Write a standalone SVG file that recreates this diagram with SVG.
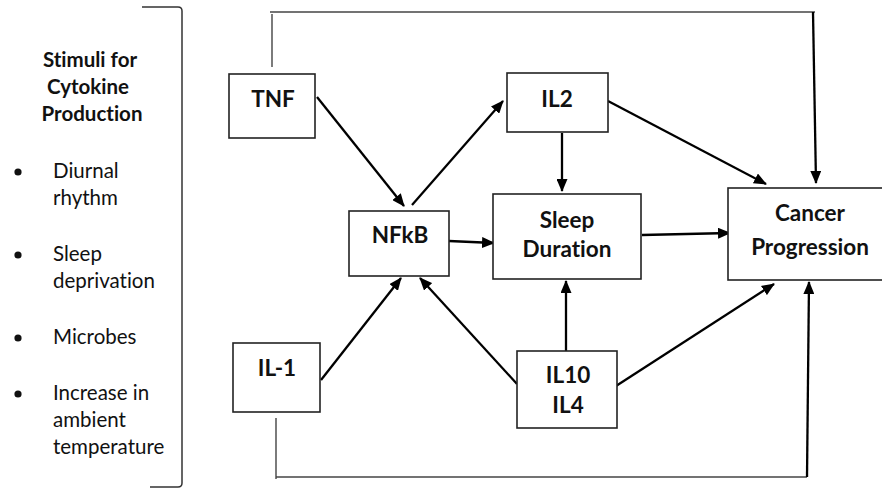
<svg xmlns="http://www.w3.org/2000/svg" width="882" height="489" viewBox="0 0 882 489">
  <style>
    text { font-variant-ligatures: none; }
    .box { fill: #ffffff; stroke: #222222; stroke-width: 1.6; }
    .lbl { font-family: Lato, "Liberation Sans", sans-serif; font-weight: 700; font-size: 22.5px; fill: #111111; text-anchor: middle; }
    .head { font-family: Lato, "Liberation Sans", sans-serif; font-weight: 700; font-size: 20.5px; fill: #111111; text-anchor: middle; }
    .item { font-family: Lato, "Liberation Sans", sans-serif; font-size: 20.5px; fill: #111111; }
    .arrow { fill: none; stroke: #000000; stroke-width: 2.3; marker-end: url(#head); }
    .thin { fill: none; stroke: #444444; stroke-width: 1.4; }
    .bracket { fill: none; stroke: #333333; stroke-width: 1.5; }
  </style>
  <defs>
    <marker id="head" markerUnits="userSpaceOnUse" markerWidth="13" markerHeight="11" refX="12" refY="5.5" orient="auto">
      <path d="M0,0 L13,5.5 L0,11 z" fill="#000000"/>
    </marker>
  </defs>

  <!-- stimuli list with its closing bracket -->
  <g id="stimuli">
    <path class="bracket" d="M142,7 L178,7 Q182,7 182,11 L182,483 Q182,487 178,487 L150,487"/>
    <text class="head" x="90" y="67">Stimuli for</text>
    <text class="head" x="88" y="94">Cytokine</text>
    <text class="head" x="92" y="121">Production</text>
    <circle cx="18" cy="172" r="3.6" fill="#111111"/>
    <text class="item" x="53" y="178">Diurnal</text>
    <text class="item" x="53" y="205">rhythm</text>
    <circle cx="18" cy="255" r="3.6" fill="#111111"/>
    <text class="item" x="53" y="261">Sleep</text>
    <text class="item" x="53" y="288">deprivation</text>
    <circle cx="18" cy="338" r="3.6" fill="#111111"/>
    <text class="item" x="53" y="344">Microbes</text>
    <circle cx="18" cy="394" r="3.6" fill="#111111"/>
    <text class="item" x="53" y="400">Increase in</text>
    <text class="item" x="53" y="427">ambient</text>
    <text class="item" x="53" y="454">temperature</text>
  </g>

  <!-- connectors -->
  <g id="connectors">
    <path class="arrow" d="M317,97 L404,206"/>
    <path class="arrow" d="M412,205 L503,101"/>
    <path class="arrow" d="M562,133 L562,191"/>
    <path class="arrow" d="M608,101 L766,184"/>
    <path class="arrow" d="M449,241 L494,243"/>
    <path class="arrow" d="M642,235 L730,233"/>
    <path class="arrow" d="M321,380 L401,278"/>
    <path class="arrow" d="M517,384 L420,278"/>
    <path class="arrow" d="M566,351 L566,281"/>
    <path class="arrow" d="M616,386 L774,284"/>
    <!-- feedback loop over the top: TNF to Cancer Progression -->
    <path class="thin" d="M272,67 L272,14"/>
    <path class="thin" d="M270,12 L815,12"/>
    <path class="arrow" d="M813,12 L816,183"/>
    <!-- feedback loop along the bottom: IL-1 to Cancer Progression -->
    <path class="thin" d="M276,418 L276,479"/>
    <path class="thin" d="M276,477 L807,477"/>
    <path class="arrow" d="M807,477 L809,282"/>
  </g>

  <g id="tnf">
    <rect class="box" x="229" y="74" width="86" height="64"/>
    <text class="lbl" x="273" y="107">TNF</text>
  </g>
  <g id="il2">
    <rect class="box" x="507" y="73" width="101" height="59"/>
    <text class="lbl" x="557" y="107">IL2</text>
  </g>
  <g id="nfkb">
    <rect class="box" x="349" y="211" width="100" height="65"/>
    <text class="lbl" x="400" y="243">NFkB</text>
  </g>
  <g id="sleep-duration">
    <rect class="box" x="493" y="194" width="148" height="85"/>
    <text class="lbl" x="567" y="228">Sleep</text>
    <text class="lbl" x="567" y="257">Duration</text>
  </g>
  <g id="cancer-progression">
    <rect class="box" x="728" y="188" width="170" height="92"/>
    <text class="lbl" x="810" y="221">Cancer</text>
    <text class="lbl" x="810" y="255">Progression</text>
  </g>
  <g id="il1">
    <rect class="box" x="233" y="343" width="87" height="69"/>
    <text class="lbl" x="277" y="376">IL-1</text>
  </g>
  <g id="il10-il4">
    <rect class="box" x="517" y="351" width="100" height="77"/>
    <text class="lbl" x="568" y="383">IL10</text>
    <text class="lbl" x="568" y="413">IL4</text>
  </g>
</svg>
